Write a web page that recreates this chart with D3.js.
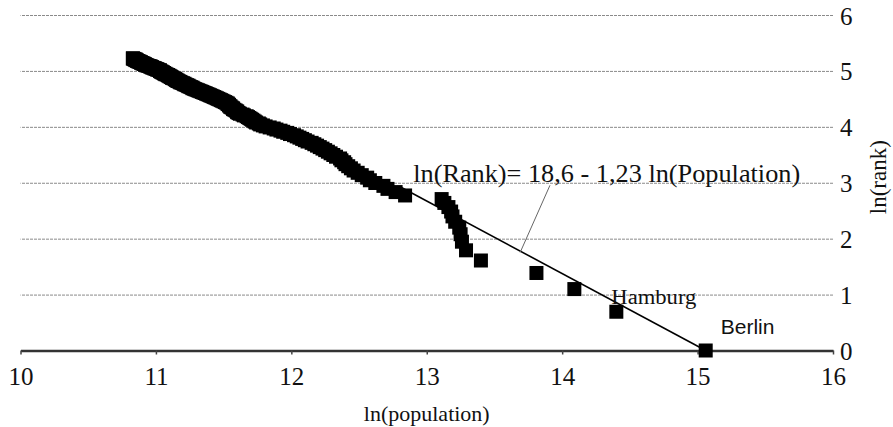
<!DOCTYPE html>
<meta charset="utf-8">
<style>
body { margin: 0; background: #fff; }
text { fill: #111; }
.grid line { stroke: #8a8a8a; stroke-dasharray: 3,1; }
.grid path.domain { display: none; }
.xaxis path.domain { stroke: #333; stroke-width: 2.5; }
.xaxis line { stroke: #444; stroke-width: 1.5; }
.yaxis path.domain, .yaxis line { display: none; }
.city { fill: #000; }
.fit { stroke: #000; stroke-width: 1.6; }
.leader { stroke: #666; stroke-width: 1; }
</style>
<body>
<script src="https://d3js.org/d3.v7.min.js"></script>
<script>

// ln(population) of each city, in rank order (rank = position in list + 1)
var lnPop = [
  15.06, 14.40, 14.09, 13.81, 13.40, 13.29, 13.26, 13.25, 13.24, 13.21,
  13.19, 13.18, 13.16, 13.13, 13.11, 12.84, 12.77, 12.71, 12.68, 12.62,
  12.58, 12.56, 12.52, 12.49, 12.46, 12.44, 12.42, 12.40, 12.39, 12.37,
  12.36, 12.33, 12.31, 12.29, 12.27, 12.25, 12.23, 12.21, 12.19, 12.17,
  12.15, 12.12, 12.10, 12.08, 12.06, 12.04, 12.02, 11.99, 11.97, 11.94,
  11.92, 11.89, 11.87, 11.84, 11.81, 11.79, 11.77, 11.76, 11.74, 11.73,
  11.72, 11.71, 11.70, 11.69, 11.68, 11.67, 11.65, 11.64, 11.62, 11.61,
  11.60, 11.60, 11.59, 11.58, 11.57, 11.57, 11.56, 11.55, 11.55, 11.54,
  11.54, 11.53, 11.53, 11.52, 11.51, 11.50, 11.49, 11.48, 11.47, 11.46,
  11.45, 11.44, 11.43, 11.42, 11.41, 11.40, 11.39, 11.38, 11.37, 11.36,
  11.35, 11.34, 11.33, 11.32, 11.31, 11.30, 11.29, 11.28, 11.27, 11.27,
  11.26, 11.25, 11.24, 11.24, 11.23, 11.22, 11.21, 11.21, 11.20, 11.19,
  11.18, 11.18, 11.17, 11.16, 11.16, 11.15, 11.15, 11.14, 11.14, 11.13,
  11.12, 11.12, 11.11, 11.11, 11.10, 11.10, 11.09, 11.09, 11.08, 11.07,
  11.07, 11.06, 11.06, 11.05, 11.05, 11.04, 11.04, 11.03, 11.03, 11.03,
  11.02, 11.01, 11.01, 11.00, 10.99, 10.99, 10.98, 10.97, 10.97, 10.96,
  10.96, 10.95, 10.94, 10.93, 10.93, 10.92, 10.92, 10.91, 10.91, 10.90,
  10.90, 10.89, 10.89, 10.88, 10.88, 10.87, 10.87, 10.86, 10.86, 10.85,
  10.85, 10.85, 10.84, 10.84, 10.83, 10.83
];

var xTicks = [10, 11, 12, 13, 14, 15, 16];
var yTicks = [0, 1, 2, 3, 4, 5, 6];

// fitted line as drawn (ln population, ln rank)
var fitX = [12.81, 15.06];
var fitY = [2.92, 0];
var eqText = "ln(Rank)= 18,6 - 1,23 ln(Population)";

var labelled = [
  { name: "Hamburg", rank: 2 },
  { name: "Berlin", rank: 1 }
];

var serif = "Liberation Serif", sans = "Liberation Sans";
var width = 893, height = 427;

var x = d3.scaleLinear().domain([10, 16]).range([20.5, 833]);
var y = d3.scaleLinear().domain([0, 6]).range([350.5, 15]);

var svg = d3.select("body").append("svg")
    .attr("width", width)
    .attr("height", height);

// horizontal gridlines
svg.append("g")
    .attr("class", "grid")
    .attr("transform", "translate(" + x(16) + ",0)")
    .call(d3.axisLeft(y).tickValues(yTicks.slice(1))
        .tickSize(x(16) - x(10)).tickFormat(""));

// y labels on the right
var yAxis = svg.append("g")
    .attr("class", "yaxis")
    .attr("transform", "translate(" + x(16) + ",0)")
    .call(d3.axisRight(y).tickValues(yTicks).tickFormat(d3.format("d"))
        .tickSize(0).tickPadding(7));
yAxis.attr("font-family", serif).attr("font-size", 25);
yAxis.selectAll("text")
    .attr("dy", null)
    .attr("y", 9);

// x axis
var xAxis = svg.append("g")
    .attr("class", "xaxis")
    .attr("transform", "translate(0," + y(0) + ")")
    .call(d3.axisBottom(x).tickValues(xTicks).tickFormat(d3.format("d"))
        .tickSize(4).tickSizeOuter(0).tickPadding(13));
xAxis.attr("font-family", serif).attr("font-size", 25);

// fitted line
svg.append("line")
    .attr("class", "fit")
    .attr("x1", x(fitX[0])).attr("y1", y(fitY[0]))
    .attr("x2", x(fitX[1])).attr("y2", y(fitY[1]));

// cities
var ms = 14;
svg.selectAll(".city")
    .data(lnPop)
  .enter().append("rect")
    .attr("class", "city")
    .attr("x", function(d) { return x(d) - ms / 2; })
    .attr("y", function(d, i) { return y(Math.log(i + 1)) - ms / 2; })
    .attr("width", ms)
    .attr("height", ms);

// equation label and leader
svg.append("line")
    .attr("class", "leader")
    .attr("x1", x(13.91)).attr("y1", y(2.955))
    .attr("x2", x(13.69)).attr("y2", y(1.755));

svg.append("text")
    .attr("x", x(12.9))
    .attr("y", y(3.02))
    .attr("textLength", 387)
    .attr("lengthAdjust", "spacingAndGlyphs")
    .attr("font-family", serif)
    .attr("font-size", 25)
    .text(eqText);

// city names
var hb = labelled[0], be = labelled[1];
svg.append("text")
    .attr("x", x(lnPop[hb.rank - 1]) - 5)
    .attr("y", y(Math.log(hb.rank)) - 8)
    .attr("textLength", 85)
    .attr("lengthAdjust", "spacingAndGlyphs")
    .attr("font-family", serif)
    .attr("font-size", 20)
    .text(hb.name);

svg.append("text")
    .attr("x", x(lnPop[be.rank - 1]) + 15)
    .attr("y", y(Math.log(be.rank)) - 17)
    .attr("font-family", sans)
    .attr("font-size", 21)
    .text(be.name);

// axis titles
svg.append("text")
    .attr("x", (x(10) + x(16)) / 2)
    .attr("y", 421)
    .attr("text-anchor", "middle")
    .attr("font-family", serif)
    .attr("font-size", 22)
    .text("ln(population)");

svg.append("text")
    .attr("transform", "translate(886," + y(3.1) + ") rotate(-90)")
    .attr("text-anchor", "middle")
    .attr("font-family", serif)
    .attr("font-size", 23)
    .text("ln(rank)");

</script>
</body>
